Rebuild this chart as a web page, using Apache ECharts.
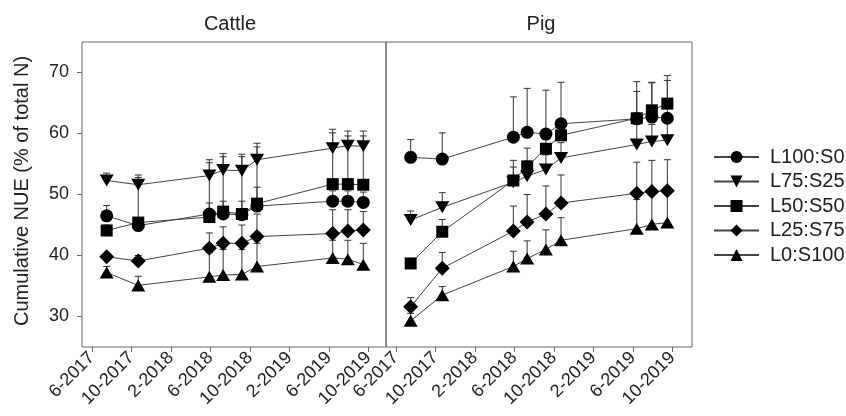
<!DOCTYPE html>
<html><head><meta charset="utf-8">
<script src="https://cdn.jsdelivr.net/npm/echarts@6/dist/echarts.min.js"></script>
<style>html,body{margin:0;padding:0;background:#fff}#c{width:846px;height:416px}</style>
</head><body><div id="c"></div>
<script>
// ---- data ----
const panels = ['Cattle', 'Pig'];
const seriesNames = ['L100:S0', 'L75:S25', 'L50:S50', 'L25:S75', 'L0:S100'];
const sampleDates = ['2017-07-16', '2017-10-22', '2018-05-28', '2018-07-10', '2018-09-07', '2018-10-23', '2019-06-13', '2019-07-29', '2019-09-16'];
const tickLabels = ['6-2017', '10-2017', '2-2018', '6-2018', '10-2018', '2-2019', '6-2019', '10-2019'];
const yTickValues = [30, 40, 50, 60, 70];
const yAxisTitle = 'Cumulative NUE (% of total N)';

// Cattle means and upper error-bar ends
const cattleL100 = [46.5, 44.9, 46.8, 46.8, 46.7, 48.1, 48.9, 48.9, 48.7];
const cattleL75  = [52.3, 51.6, 53.1, 54.0, 53.9, 55.7, 57.6, 58.0, 57.9];
const cattleL50  = [44.1, 45.4, 46.3, 47.2, 46.8, 48.5, 51.7, 51.7, 51.6];
const cattleL25  = [39.8, 39.1, 41.2, 42.0, 42.0, 43.1, 43.6, 44.0, 44.2];
const cattleL0   = [37.2, 35.1, 36.5, 36.8, 36.9, 38.2, 39.6, 39.4, 38.5];
const cattleL100Top = [48.2, 46.0, 48.6, 48.9, 48.9, 51.2, 50.6, 50.6, 50.4];
const cattleL75Top  = [53.5, 53.2, 55.7, 56.7, 56.6, 58.4, 60.7, 60.4, 60.4];
const cattleL50Top  = [45.0, 52.8, 55.2, 56.2, 56.2, 57.8, 60.1, 59.6, 59.6];
const cattleL25Top  = [40.3, 40.0, 43.7, 44.7, 45.0, 46.8, 47.5, 47.5, 47.2];
const cattleL0Top   = [38.2, 36.6, 40.5, 41.0, 41.0, 42.0, 42.5, 42.5, 42.0];

// Pig means and upper error-bar ends
const pigL100 = [56.1, 55.8, 59.4, 60.2, 59.9, 61.6, 62.4, 62.7, 62.5];
const pigL75  = [45.8, 47.9, 52.0, 53.0, 54.1, 56.0, 58.2, 58.7, 58.9];
const pigL50  = [38.7, 43.9, 52.3, 54.6, 57.5, 59.7, 62.5, 63.8, 64.9];
const pigL25  = [31.6, 37.9, 44.0, 45.5, 46.8, 48.6, 50.2, 50.5, 50.6];
const pigL0   = [29.3, 33.5, 38.2, 39.5, 41.0, 42.5, 44.4, 45.1, 45.4];
const pigL100Top = [59.0, 60.1, 66.0, 67.4, 67.1, 68.4, 68.5, 68.4, 69.5];
const pigL75Top  = [47.3, 50.3, 54.5, 55.5, 56.5, 58.5, 61.5, 61.5, 62.0];
const pigL50Top  = [39.5, 45.9, 55.6, 57.6, 59.5, 62.0, 66.9, 68.3, 68.7];
const pigL25Top  = [33.1, 40.5, 48.1, 50.0, 51.4, 53.2, 55.3, 55.6, 55.7];
const pigL0Top   = [30.5, 34.9, 40.7, 42.4, 44.2, 46.2, 49.2, 50.5, 51.0];

// ---- helpers ----
const FONT = '"Liberation Sans", Arial, Helvetica, sans-serif';
function dateToMonth(s) { const [y, m, d] = s.split('-').map(Number); return (y - 2017) * 12 + m + (d - 1) / 30; }
function labelToMonth(s) { const [m, y] = s.split('-').map(Number); return (y - 2017) * 12 + m; }
const xs = sampleDates.map(dateToMonth);
const tickVals = tickLabels.map(labelToMonth);
const labelMap = {}; tickVals.forEach((v, i) => labelMap[v] = tickLabels[i]);

const means = [[cattleL100, cattleL75, cattleL50, cattleL25, cattleL0], [pigL100, pigL75, pigL50, pigL25, pigL0]];
const tops = [[cattleL100Top, cattleL75Top, cattleL50Top, cattleL25Top, cattleL0Top], [pigL100Top, pigL75Top, pigL50Top, pigL25Top, pigL0Top]];
const symbols = ['circle', 'triangle', 'rect', 'diamond', 'triangle'];
const symRot = [0, 180, 0, 0, 0];
const symSize = [[13, 13], [14, 12], [12, 12], [15, 15], [14, 12]];

const series = [];
for (let p = 0; p < 2; p++) {
  for (let s = 0; s < 5; s++) {
    series.push({
      type: 'custom', name: 'err ' + seriesNames[s] + p, xAxisIndex: p, yAxisIndex: p, z: 1,
      data: xs.map((x, i) => [x, means[p][s][i], tops[p][s][i]]),
      renderItem: function (params, api) {
        const a = api.coord([api.value(0), api.value(1)]);
        const b = api.coord([api.value(0), api.value(2)]);
        const w = 3.5;
        return { type: 'group', children: [
          { type: 'line', shape: { x1: a[0], y1: a[1], x2: b[0], y2: b[1] }, style: { stroke: '#333', lineWidth: 1 } },
          { type: 'line', shape: { x1: b[0] - w, y1: b[1], x2: b[0] + w, y2: b[1] }, style: { stroke: '#333', lineWidth: 1 } }
        ] };
      },
      silent: true, animation: false
    });
  }
}
for (let p = 0; p < 2; p++) {
  for (let s = 0; s < 5; s++) {
    series.push({
      type: 'line', name: seriesNames[s], xAxisIndex: p, yAxisIndex: p, z: 3,
      data: xs.map((x, i) => [x, means[p][s][i]]),
      symbol: symbols[s], symbolRotate: symRot[s], symbolSize: symSize[s],
      itemStyle: { color: '#000', borderWidth: 0 },
      lineStyle: { color: '#444', width: 1 },
      animation: false
    });
  }
}

const grids = [
  { left: 82, top: 42, width: 304, height: 305 },
  { left: 386, top: 42, width: 306, height: 305 }
];
const xAxes = [0, 1].map(p => ({
  type: 'value', gridIndex: p, min: 5, max: p === 0 ? 35.8 : 36,
  axisLine: { show: false },
  splitLine: { show: false },
  axisTick: { show: true, customValues: tickVals, length: 5, inside: false, lineStyle: { color: '#666' } },
  axisLabel: { customValues: tickVals, rotate: 45, margin: 8, fontSize: 18, color: '#222', fontFamily: FONT,
    formatter: v => labelMap[Math.round(v)] || '' }
}));
const yAxes = [
  { type: 'value', gridIndex: 0, min: 25, max: 75,
    axisLine: { show: false }, splitLine: { show: false },
    axisTick: { show: true, customValues: yTickValues, length: 5, inside: false, lineStyle: { color: '#666' } },
    axisLabel: { customValues: yTickValues, fontSize: 18, margin: 13, color: '#222', fontFamily: FONT } },
  { type: 'value', gridIndex: 1, min: 25, max: 75, show: false }
];

const chart = echarts.init(document.getElementById('c'), null, { renderer: 'canvas' });
chart.setOption({
  backgroundColor: '#fff',
  animation: false,
  grid: grids.map(g => Object.assign({ show: true, borderColor: '#666', borderWidth: 1, backgroundColor: 'transparent', containLabel: false }, g)),
  xAxis: xAxes,
  yAxis: yAxes,
  legend: {
    data: seriesNames, orient: 'vertical', left: 713, top: 147, padding: 0,
    itemWidth: 45, itemHeight: 15, itemGap: 4.5,
    textStyle: { fontSize: 20, lineHeight: 20, color: '#222', fontFamily: FONT, padding: [0, 0, 0, 6] },
    selectedMode: false
  },
  graphic: [
    { type: 'text', x: 230, y: 24, style: { text: panels[0], font: '20px ' + FONT, fill: '#222', textAlign: 'center', textVerticalAlign: 'middle' } },
    { type: 'text', x: 541, y: 24, style: { text: panels[1], font: '20px ' + FONT, fill: '#222', textAlign: 'center', textVerticalAlign: 'middle' } },
    { type: 'text', x: 22, y: 191, rotation: Math.PI / 2, style: { text: yAxisTitle, font: '20px ' + FONT, fill: '#222', textAlign: 'center', textVerticalAlign: 'middle' } }
  ],
  series: series
});
</script>
</body></html>
